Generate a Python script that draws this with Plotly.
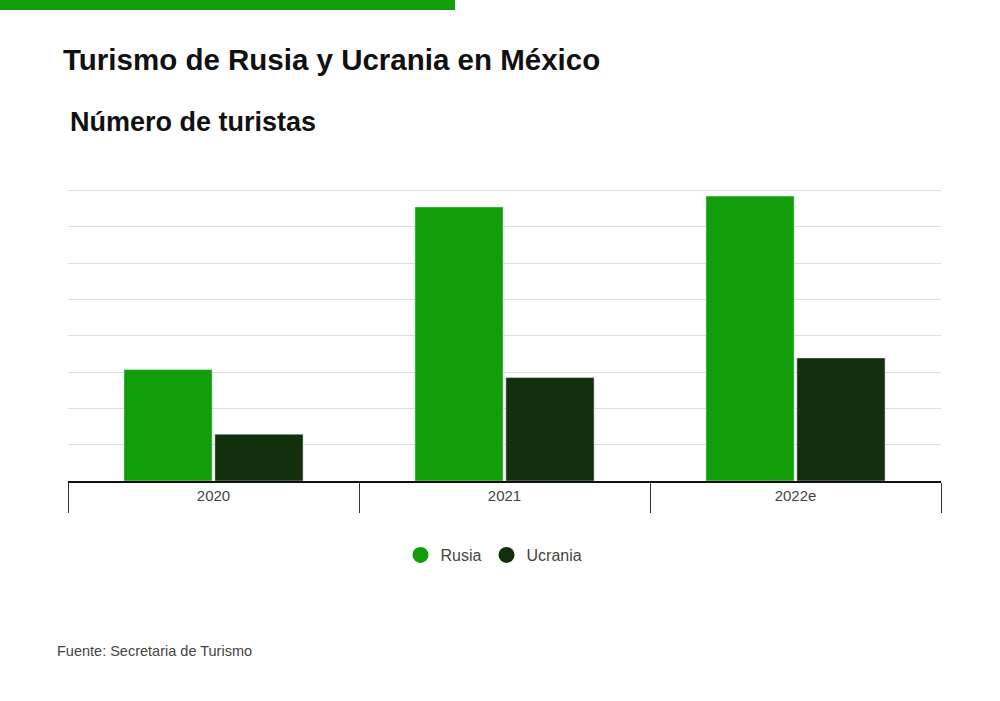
import plotly.graph_objects as go

years = ["2020", "2021", "2022e"]
rusia = [30.7, 75.5, 78.5]
ucrania = [12.9, 28.5, 33.9]

verde = "#129e0a"
oscuro = "#11300b"
gris = "#444444"

W, H = 1000, 701
# area de trazado en pixeles de la imagen
x_izq, x_der = 68, 941
base, alto = 481, 294


def py(y):
    return (base - y) / alto


def px(x):
    return (x - x_izq) / (x_der - x_izq)


fig = go.Figure()

fig.add_trace(go.Bar(x=years, y=rusia, name="Rusia", marker_color=verde, showlegend=False))
fig.add_trace(go.Bar(x=years, y=ucrania, name="Ucrania", marker_color=oscuro, showlegend=False))

# leyenda con circulos
for nombre, color in [("Rusia", verde), ("Ucrania", oscuro)]:
    fig.add_trace(go.Scatter(x=[years[0]], y=[None], mode="markers", name=nombre,
                             marker=dict(color=color, size=20, symbol="circle")))

fig.update_layout(
    width=W, height=H,
    margin=dict(l=x_izq, r=W - x_der, t=base - alto, b=H - base),
    plot_bgcolor="white", paper_bgcolor="white",
    barmode="group", bargap=0.375, bargroupgap=0.03,
    font=dict(family="Liberation Sans, Arial, sans-serif", color=gris, size=15),
    showlegend=True,
    legend=dict(orientation="h", x=494 / W, xref="container", xanchor="center",
                y=1 - 555 / H, yref="container", yanchor="middle",
                font=dict(size=16, color=gris)),
    title=dict(text="<b>Turismo de Rusia y Ucrania en México</b>",
               x=63 / W, xref="container", xanchor="left",
               y=1 - 60 / H, yanchor="middle",
               font=dict(size=29.5, color="#111111")),
)

fig.add_annotation(text="<b>Número de turistas</b>", xref="paper", yref="paper",
                   x=px(68), y=py(122), xanchor="left", yanchor="middle",
                   showarrow=False, font=dict(size=27, color="#111111"))

fig.add_annotation(text="Fuente: Secretaria de Turismo", xref="paper", yref="paper",
                   x=px(55), y=py(651), xanchor="left", yanchor="middle",
                   showarrow=False, font=dict(size=14.5, color=gris))

# franja verde superior
fig.add_shape(type="rect", xref="paper", yref="paper",
              x0=px(0), x1=px(455), y0=py(10), y1=py(0),
              fillcolor="#14a00c", line_width=0, layer="above")

fig.update_xaxes(showline=True, linecolor="#111111", linewidth=2,
                 ticks="outside", tickson="boundaries", ticklen=30, tickcolor="#333333",
                 tickwidth=1, showgrid=False,
                 tickfont=dict(size=15, color=gris))
fig.update_yaxes(range=[0, 81], dtick=10, showticklabels=False, showgrid=True,
                 gridcolor="#dddddd", gridwidth=1, zeroline=False)

fig.write_html("out.html", config={"displayModeBar": False},
               post_script="document.body.style.margin='0';")
